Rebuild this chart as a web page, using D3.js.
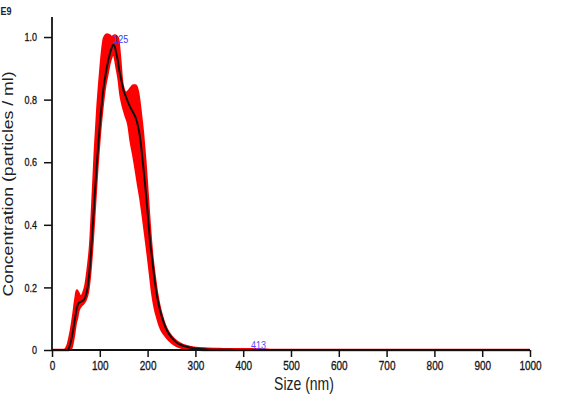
<!DOCTYPE html>
<html>
<head>
<meta charset="utf-8">
<script src="https://cdn.jsdelivr.net/npm/d3@7/dist/d3.min.js"></script>
<style>
  html, body { margin: 0; padding: 0; background: #fff; }
  svg { display: block; font-family: Arial, "Liberation Sans", sans-serif; }
</style>
</head>
<body>
<svg id="chart" width="577" height="398"></svg>
<script>
// Size bins (nm)
const sizes = [0, 25, 30, 33, 35, 40, 45, 48, 50, 52, 55, 60, 65, 70, 75, 80, 85, 90, 95, 100,
  105, 108, 111, 115, 120, 125, 128, 131, 135, 138, 140, 143, 146, 150, 155, 160, 165, 170, 175, 180,
  185, 190, 195, 200, 205, 210, 215, 220, 225, 230, 235, 240, 250, 260, 270, 280, 290, 300, 325, 350,
  375, 400, 425, 450, 455, 500, 600, 700, 800, 900, 1000];
// Mean concentration (E9 particles / ml)
const meanConc = [0, 0, 0, 0.001, 0.005, 0.03, 0.07, 0.10, 0.118, 0.135, 0.148, 0.154, 0.158, 0.17, 0.205, 0.28, 0.39, 0.51, 0.62, 0.72,
  0.80, 0.84, 0.87, 0.905, 0.94, 0.966, 0.975, 0.97, 0.945, 0.922, 0.90, 0.878, 0.855, 0.828, 0.808, 0.788, 0.772, 0.758, 0.742, 0.715,
  0.67, 0.60, 0.525, 0.44, 0.35, 0.285, 0.22, 0.17, 0.133, 0.105, 0.082, 0.064, 0.04, 0.025, 0.016, 0.011, 0.007, 0.005, 0.002, 0.001,
  0.0005, 0, 0, 0, 0, 0, 0, 0, 0, 0, 0];
// Upper error bound
const upperConc = [0, 0, 0.006, 0.016, 0.028, 0.065, 0.115, 0.152, 0.172, 0.19, 0.182, 0.17, 0.18, 0.205, 0.26, 0.335, 0.48, 0.64, 0.77, 0.87,
  0.955, 0.99, 1.003, 1.008, 1.005, 1.0, 1.002, 1.005, 1.002, 0.995, 0.97, 0.92, 0.862, 0.832, 0.822, 0.827, 0.837, 0.845, 0.845, 0.822,
  0.765, 0.695, 0.605, 0.495, 0.385, 0.295, 0.232, 0.178, 0.138, 0.108, 0.084, 0.066, 0.043, 0.028, 0.019, 0.013, 0.009, 0.006, 0.004, 0.003,
  0.002, 0.002, 0.002, 0.001, 0, 0, 0, 0, 0, 0, 0];
// Lower error bound
const lowerConc = [0, 0, 0, 0, 0, 0.005, 0.04, 0.07, 0.09, 0.10, 0.125, 0.14, 0.148, 0.16, 0.185, 0.25, 0.35, 0.47, 0.59, 0.69,
  0.77, 0.81, 0.843, 0.875, 0.915, 0.94, 0.95, 0.94, 0.905, 0.88, 0.86, 0.82, 0.795, 0.77, 0.745, 0.72, 0.665, 0.625, 0.58, 0.53,
  0.485, 0.43, 0.37, 0.31, 0.245, 0.18, 0.135, 0.105, 0.08, 0.062, 0.05, 0.04, 0.025, 0.014, 0.008, 0.005, 0.003, 0.002, 0, 0,
  0, 0, 0, 0, 0, 0, 0, 0, 0, 0, 0];

// Peak labels
const peakSizes = [125, 413];
const peakConcs = [0.978, 0.003];
const peakColors = ["#3b3bff", "#5a46ff"];

const xTicks = [0, 100, 200, 300, 400, 500, 600, 700, 800, 900, 1000];
const yTicks = [0, 0.2, 0.4, 0.6, 0.8, 1.0];
const yTickLabels = ["0", "0.2", "0.4", "0.6", "0.8", "1.0"];

const svg = d3.select("#chart");
const x = d3.scaleLinear().domain([0, 1000]).range([52, 530]);
const y = d3.scaleLinear().domain([0, 1.064]).range([350, 17]);

const data = sizes.map((s, i) => ({ s, m: meanConc[i], u: upperConc[i], l: lowerConc[i] }));

// Error band
const area = d3.area().x(d => x(d.s)).y0(d => y(d.l)).y1(d => y(d.u)).curve(d3.curveMonotoneX);
svg.append("path").datum(data).attr("d", area)
  .attr("fill", "#ff0000").attr("stroke", "#ff0000").attr("stroke-width", 2.6)
  .attr("stroke-linejoin", "miter");

// Mean line
const line = d3.line().x(d => x(d.s)).y(d => y(d.m)).curve(d3.curveMonotoneX);
svg.append("path").datum(data).attr("d", line)
  .attr("fill", "none").attr("stroke", "#111").attr("stroke-width", 2);

// Y axis
const yAxis = d3.axisLeft(y).tickValues(yTicks)
  .tickFormat((d, i) => yTickLabels[i]).tickSize(8).tickPadding(7);
const gy = svg.append("g").attr("transform", "translate(52,0)").call(yAxis);
gy.select(".domain").remove();
gy.selectAll(".tick line").attr("stroke", "#111").attr("stroke-width", 1.5);
gy.selectAll(".tick text").attr("font-size", 9).attr("fill", "#141420")
  .attr("font-family", "Arial, 'Liberation Sans', sans-serif")
  .attr("stroke", "#141420").attr("stroke-width", 0.25)
  .attr("transform", "scale(1,1.25)");

// X axis
const xAxis = d3.axisBottom(x).tickValues(xTicks).tickFormat(d3.format("d")).tickSize(7).tickPadding(2.2);
const gx = svg.append("g").attr("transform", "translate(0,350)").call(xAxis);
gx.select(".domain").remove();
gx.selectAll(".tick line").attr("stroke", "#111").attr("stroke-width", 1.5);
gx.selectAll(".tick text").attr("font-size", 10).attr("fill", "#141420")
  .attr("font-family", "Arial, 'Liberation Sans', sans-serif")
  .attr("stroke", "#141420").attr("stroke-width", 0.25)
  .attr("transform", "scale(1,1.25)");

// Axis lines
svg.append("line").attr("x1", 52).attr("x2", 52).attr("y1", y.range()[1]).attr("y2", 350)
  .attr("stroke", "#111").attr("stroke-width", 1.8);
svg.append("line").attr("x1", 52).attr("x2", 530).attr("y1", 350).attr("y2", 350)
  .attr("stroke", "#111").attr("stroke-width", 1.8);

// Peak labels
peakSizes.forEach((p, i) => {
  svg.append("text")
    .attr("transform", `translate(${x(p) + 1.5},${y(peakConcs[i]) - 0.5}) scale(1,1.25)`)
    .attr("font-size", 9).attr("fill", peakColors[i]).text(String(p));
});

// E9 multiplier
svg.append("text").attr("transform", "translate(0.5,15) scale(1,1.25)")
  .attr("font-size", 9).attr("font-weight", "bold").attr("fill", "#1c1c2a").text("E9");

// Axis titles
svg.append("text").attr("transform", "translate(304,390) scale(1,1.25)")
  .attr("text-anchor", "middle").attr("font-size", 14).attr("fill", "#222")
  .text("Size (nm)");
svg.append("text").attr("transform", "translate(12.5,184) rotate(-90)")
  .attr("text-anchor", "middle").attr("font-size", 14).attr("fill", "#222")
  .attr("textLength", 225).attr("lengthAdjust", "spacingAndGlyphs")
  .text("Concentration (particles / ml)");
</script>
</body>
</html>
